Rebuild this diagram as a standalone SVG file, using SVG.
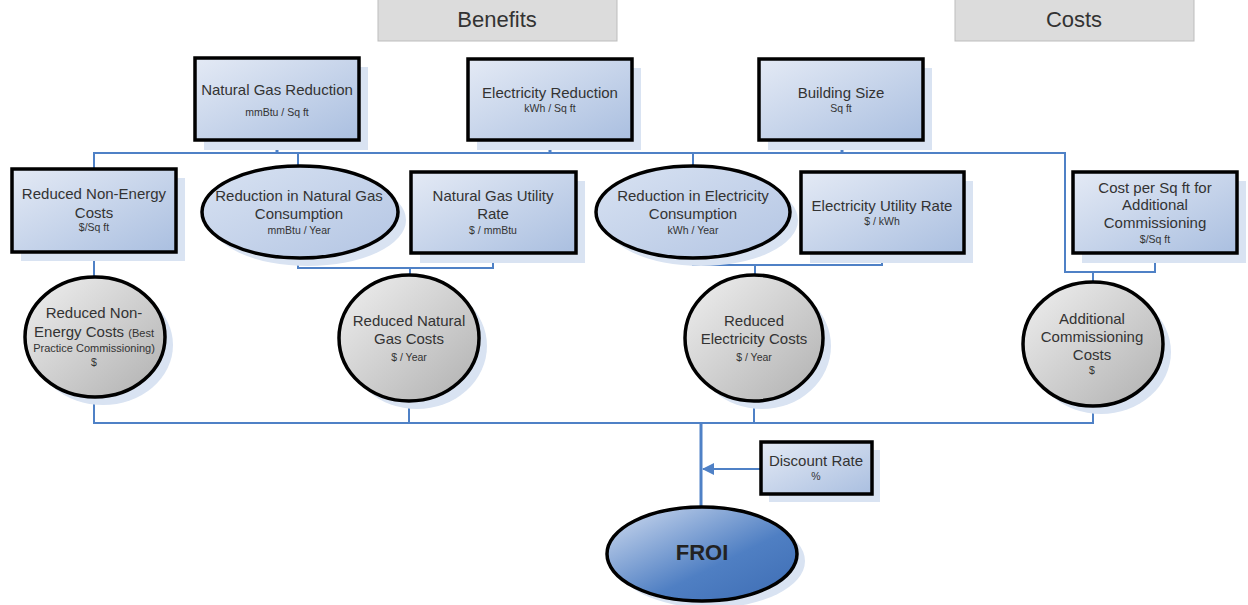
<svg xmlns="http://www.w3.org/2000/svg" width="1248" height="605" viewBox="0 0 1248 605">
  <style>
    text { font-family: "Liberation Sans", Arial, sans-serif; fill: #333; text-anchor: middle; }
    .t { font-size: 15px; }
    .s { font-size: 10.5px; }
    .hdr { font-size: 22px; }
    .box { fill: url(#boxFill); stroke: #000; stroke-width: 3.5; }
    .ell { fill: url(#ellFill); stroke: #000; stroke-width: 3.5; }
    .res { fill: url(#resFill); stroke: #000; stroke-width: 3.5; }
    .shd { fill: #d9e3f2; }
    .ln { fill: none; stroke: #4f81c6; stroke-width: 2; }
    .lnb { fill: none; stroke: #4f81c6; stroke-width: 3; }
  </style>
  <defs>
    <linearGradient id="boxFill" x1="0" y1="0" x2="1" y2="1">
      <stop offset="0" stop-color="#e4eaf5"/>
      <stop offset="1" stop-color="#aabfe0"/>
    </linearGradient>
    <linearGradient id="ellFill" x1="0" y1="0" x2="1" y2="1">
      <stop offset="0" stop-color="#d8e2f2"/>
      <stop offset="1" stop-color="#b3c5e3"/>
    </linearGradient>
    <linearGradient id="resFill" x1="0" y1="0" x2="1" y2="1">
      <stop offset="0" stop-color="#f0f0f0"/>
      <stop offset="1" stop-color="#b0b0b0"/>
    </linearGradient>
    <linearGradient id="froiFill" x1="0" y1="0" x2="1" y2="1">
      <stop offset="0" stop-color="#d3def1"/>
      <stop offset="0.6" stop-color="#4f7fc3"/>
      <stop offset="1" stop-color="#3d6cb3"/>
    </linearGradient>
    <marker id="arr" viewBox="0 0 12 12" refX="11" refY="6" markerWidth="12" markerHeight="12" markerUnits="userSpaceOnUse" orient="auto">
      <path d="M0,0 L12,6 L0,12 z" fill="#4f81c6"/>
    </marker>
  </defs>

  <!-- section headers -->
  <g id="hdr-benefits">
    <rect x="378" y="-1" width="239" height="42" fill="#dcdcdc" stroke="#bdbdbd"/>
    <text class="hdr" x="497" y="27">Benefits</text>
  </g>
  <g id="hdr-costs">
    <rect x="955" y="-1" width="239" height="42" fill="#dcdcdc" stroke="#bdbdbd"/>
    <text class="hdr" x="1074" y="27">Costs</text>
  </g>

  <!-- connectors -->
  <g id="connectors">
    <path class="lnb" d="M277,140 V153 M550,140 V153 M842,140 V153"/>
    <path class="ln" d="M94,169 V153 H1065 V272 H1155 V253"/>
    <path class="ln" d="M298,166 V153 M693,166 V153"/>
    <path class="ln" d="M298,258 V268 H493 V253 M410,268 V276"/>
    <path class="ln" d="M693,258 V265 H882 V253 M755,265 V276"/>
    <path class="ln" d="M94,252 V278 M1093,272 V283"/>
    <path class="ln" d="M94,397 V423 H1093 V406 M409,401 V423 M754,401 V423"/>
    <path class="lnb" d="M701,423 V508"/>
    <path class="ln" d="M761,469 H703" marker-end="url(#arr)"/>
  </g>

  <!-- top row -->
  <g id="n-gas-reduction">
    <rect class="shd" x="204" y="67" width="164" height="83"/>
    <rect class="box" x="195" y="58" width="164" height="82"/>
    <text class="t" x="277" y="94.5">Natural Gas Reduction</text>
    <text class="s" x="277" y="116">mmBtu / Sq ft</text>
  </g>
  <g id="n-elec-reduction">
    <rect class="shd" x="477" y="68" width="164" height="82"/>
    <rect class="box" x="468" y="59" width="164" height="81"/>
    <text class="t" x="550" y="97.5">Electricity Reduction</text>
    <text class="s" x="550" y="112">kWh / Sq ft</text>
  </g>
  <g id="n-building-size">
    <rect class="shd" x="768" y="68" width="164" height="82"/>
    <rect class="box" x="759" y="59" width="164" height="81"/>
    <text class="t" x="841" y="97.5">Building Size</text>
    <text class="s" x="841" y="112">Sq ft</text>
  </g>

  <!-- second row -->
  <g id="n-nonenergy-sqft">
    <rect class="shd" x="21" y="178" width="164" height="83"/>
    <rect class="box" x="12" y="169" width="164" height="83"/>
    <text class="t" x="94" y="198.5">Reduced Non-Energy</text>
    <text class="t" x="94" y="217.5">Costs</text>
    <text class="s" x="94" y="231">$/Sq ft</text>
  </g>
  <g id="n-gas-consumption">
    <ellipse class="shd" cx="308" cy="220" rx="98" ry="46"/>
    <ellipse class="ell" cx="300" cy="212" rx="98" ry="46"/>
    <text class="t" x="299" y="200.5">Reduction in Natural Gas</text>
    <text class="t" x="299" y="218.5">Consumption</text>
    <text class="s" x="299" y="234">mmBtu / Year</text>
  </g>
  <g id="n-gas-rate">
    <rect class="shd" x="420" y="181" width="165" height="82"/>
    <rect class="box" x="411" y="172" width="165" height="81"/>
    <text class="t" x="493" y="200.5">Natural Gas Utility</text>
    <text class="t" x="493" y="218.5">Rate</text>
    <text class="s" x="493" y="234">$ / mmBtu</text>
  </g>
  <g id="n-elec-consumption">
    <ellipse class="shd" cx="701" cy="220" rx="97" ry="46"/>
    <ellipse class="ell" cx="693" cy="212" rx="97" ry="46"/>
    <text class="t" x="693" y="200.5">Reduction in Electricity</text>
    <text class="t" x="693" y="218.5">Consumption</text>
    <text class="s" x="693" y="234">kWh / Year</text>
  </g>
  <g id="n-elec-rate">
    <rect class="shd" x="810" y="181" width="163" height="82"/>
    <rect class="box" x="801" y="172" width="163" height="81"/>
    <text class="t" x="882" y="210.5">Electricity Utility Rate</text>
    <text class="s" x="882" y="225">$ / kWh</text>
  </g>
  <g id="n-cost-sqft">
    <rect class="shd" x="1082" y="181" width="164" height="82"/>
    <rect class="box" x="1073" y="172" width="164" height="81"/>
    <text class="t" x="1155" y="192.5">Cost per Sq ft for</text>
    <text class="t" x="1155" y="209.5">Additional</text>
    <text class="t" x="1155" y="228">Commissioning</text>
    <text class="s" x="1155" y="243">$/Sq ft</text>
  </g>

  <!-- third row -->
  <g id="n-nonenergy-costs">
    <ellipse class="shd" cx="103" cy="345" rx="70" ry="60"/>
    <ellipse class="res" cx="95" cy="337" rx="70" ry="60"/>
    <text class="t" x="94" y="317.5">Reduced Non-</text>
    <text x="94" y="336.5"><tspan class="t">Energy Costs </tspan><tspan style="font-size:11px">(Best</tspan></text>
    <text x="94" y="352" style="font-size:11px">Practice Commissioning)</text>
    <text class="s" x="94" y="366">$</text>
  </g>
  <g id="n-gas-costs">
    <ellipse class="shd" cx="417" cy="346" rx="70" ry="63"/>
    <ellipse class="res" cx="409" cy="338" rx="70" ry="63"/>
    <text class="t" x="409" y="325.5">Reduced Natural</text>
    <text class="t" x="409" y="343.5">Gas Costs</text>
    <text class="s" x="409" y="361">$ / Year</text>
  </g>
  <g id="n-elec-costs">
    <ellipse class="shd" cx="762" cy="346" rx="69" ry="63"/>
    <ellipse class="res" cx="754" cy="338" rx="69" ry="63"/>
    <text class="t" x="754" y="325.5">Reduced</text>
    <text class="t" x="754" y="343.5">Electricity Costs</text>
    <text class="s" x="754" y="361">$ / Year</text>
  </g>
  <g id="n-commissioning-costs">
    <ellipse class="shd" cx="1101" cy="352" rx="70" ry="62"/>
    <ellipse class="res" cx="1093" cy="344" rx="70" ry="62"/>
    <text class="t" x="1092" y="323.5">Additional</text>
    <text class="t" x="1092" y="341.5">Commissioning</text>
    <text class="t" x="1092" y="359.5">Costs</text>
    <text class="s" x="1092" y="374">$</text>
  </g>

  <!-- discount rate and result -->
  <g id="n-discount-rate">
    <rect class="shd" x="769" y="450" width="111" height="52"/>
    <rect class="box" x="761" y="442" width="111" height="52"/>
    <text class="t" x="816" y="465.5">Discount Rate</text>
    <text class="s" x="816" y="480">%</text>
  </g>
  <g id="n-froi">
    <ellipse class="shd" cx="710" cy="561" rx="95" ry="47"/>
    <ellipse cx="702" cy="554" rx="95" ry="47" fill="url(#froiFill)" stroke="#000" stroke-width="3.5"/>
    <text x="702" y="560" style="font-size:22px;font-weight:bold;fill:#222">FROI</text>
  </g>
</svg>
